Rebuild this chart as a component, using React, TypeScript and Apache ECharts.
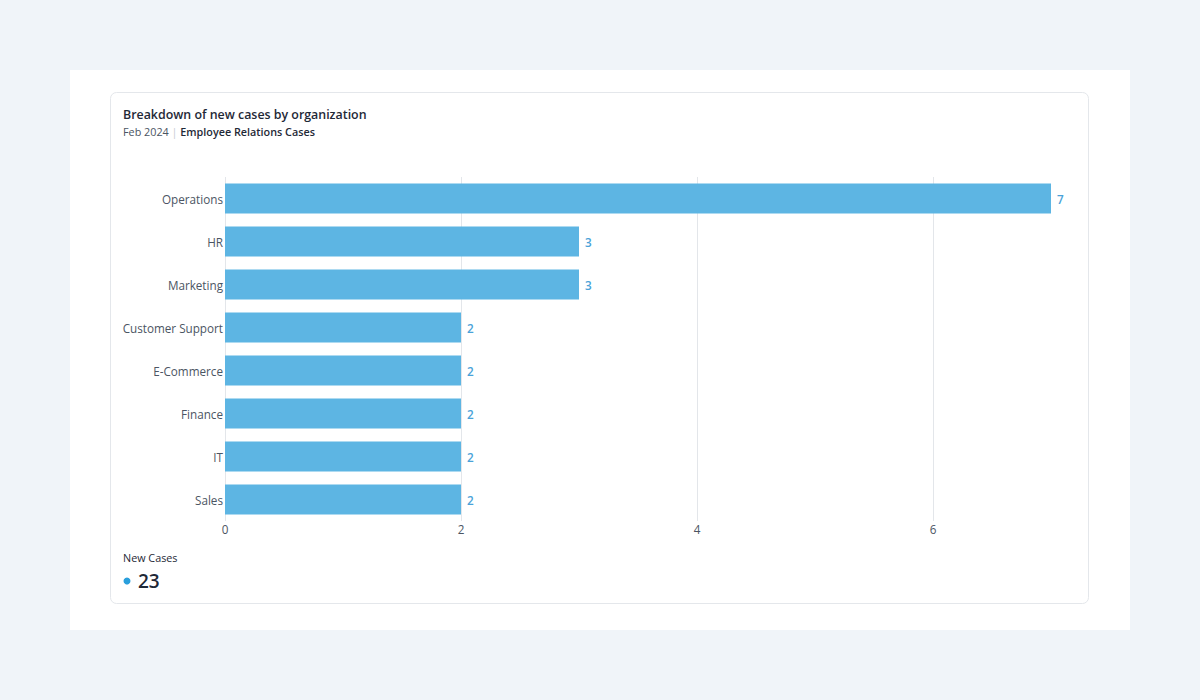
import React, { useEffect, useRef } from "react";
import * as echarts from "echarts";

const categories = ["Operations", "HR", "Marketing", "Customer Support", "E-Commerce", "Finance", "IT", "Sales"];
const newCases = [7, 3, 3, 2, 2, 2, 2, 2];
const xTicks = [0, 2, 4, 6];

const FONT = "'Open Sans', 'Noto Sans', sans-serif";

export default function App() {
  const ref = useRef<HTMLDivElement>(null);
  useEffect(() => {
    if (!ref.current) return;
    const chart = echarts.init(ref.current, null, { renderer: "svg" });
    const total = newCases.reduce((a, b) => a + b, 0);
    chart.setOption({
      animation: false,
      backgroundColor: "#f0f4f9",
      textStyle: { fontFamily: FONT },
      grid: { left: 225, right: 149, top: 177, height: 344, containLabel: false },
      xAxis: {
        type: "value",
        min: xTicks[0],
        max: 7,
        interval: xTicks[1] - xTicks[0],
        axisLine: { show: false },
        axisTick: { show: false },
        axisLabel: { showMaxLabel: false, color: "#4b5563", fontSize: 11.7, margin: 1.5, fontFamily: FONT },
        splitLine: { show: true, showMaxLine: false, lineStyle: { color: "#e3e6ea", width: 1 } },
      },
      yAxis: {
        type: "category",
        data: categories,
        inverse: true,
        axisLine: { show: false },
        axisTick: { show: false },
        axisLabel: { color: "#4b5563", fontSize: 11.7, margin: 2, fontFamily: FONT },
        splitLine: { show: false },
      },
      series: [
        {
          type: "bar",
          name: "New Cases",
          data: newCases,
          barWidth: 30,
          itemStyle: { color: "#5db5e3" },
          label: {
            show: true,
            position: "right",
            distance: 6,
            color: "#4aa2d8",
            fontWeight: 600,
            fontSize: 11.7,
            fontFamily: FONT,
          },
          z: 3,
        },
      ],
      graphic: [
        {
          type: "rect",
          z: -10,
          shape: { x: 70, y: 70, width: 1060, height: 560 },
          style: { fill: "#ffffff" },
          silent: true,
        },
        {
          type: "rect",
          z: -9,
          shape: { x: 110.5, y: 92.5, width: 978, height: 511, r: 6 },
          style: { fill: "#ffffff", stroke: "#e4e7eb", lineWidth: 1 },
          silent: true,
        },
        {
          type: "text",
          x: 123,
          y: 114,
          style: {
            text: "Breakdown of new cases by organization",
            fill: "#1f2937",
            font: `600 12.4px ${FONT}`,
            verticalAlign: "middle",
          },
        },
        {
          type: "text",
          x: 123,
          y: 131,
          style: {
            text: "{a|Feb 2024}{b| | }{c|Employee Relations Cases}",
            verticalAlign: "middle",
            rich: {
              a: { fill: "#4b5563", fontSize: 10.8, fontFamily: FONT },
              b: { fill: "#c7ccd3", fontSize: 10.8, fontFamily: FONT },
              c: { fill: "#1f2937", fontSize: 10.8, fontWeight: 600, fontFamily: FONT },
            },
          },
        },
        {
          type: "text",
          x: 123,
          y: 557,
          style: {
            text: "New Cases",
            fill: "#1f2937",
            font: `400 10.8px ${FONT}`,
            verticalAlign: "middle",
          },
        },
        {
          type: "circle",
          shape: { cx: 127, cy: 581, r: 3.5 },
          style: { fill: "#2a9fdc" },
        },
        {
          type: "text",
          x: 138,
          y: 581,
          style: {
            text: String(total),
            fill: "#1f2937",
            font: `600 19px ${FONT}`,
            verticalAlign: "middle",
          },
        },
      ],
    });
    return () => chart.dispose();
  }, []);
  return (
    <div
      ref={ref}
      style={{ position: "fixed", left: 0, top: 0, width: 1200, height: 700 }}
    />
  );
}
